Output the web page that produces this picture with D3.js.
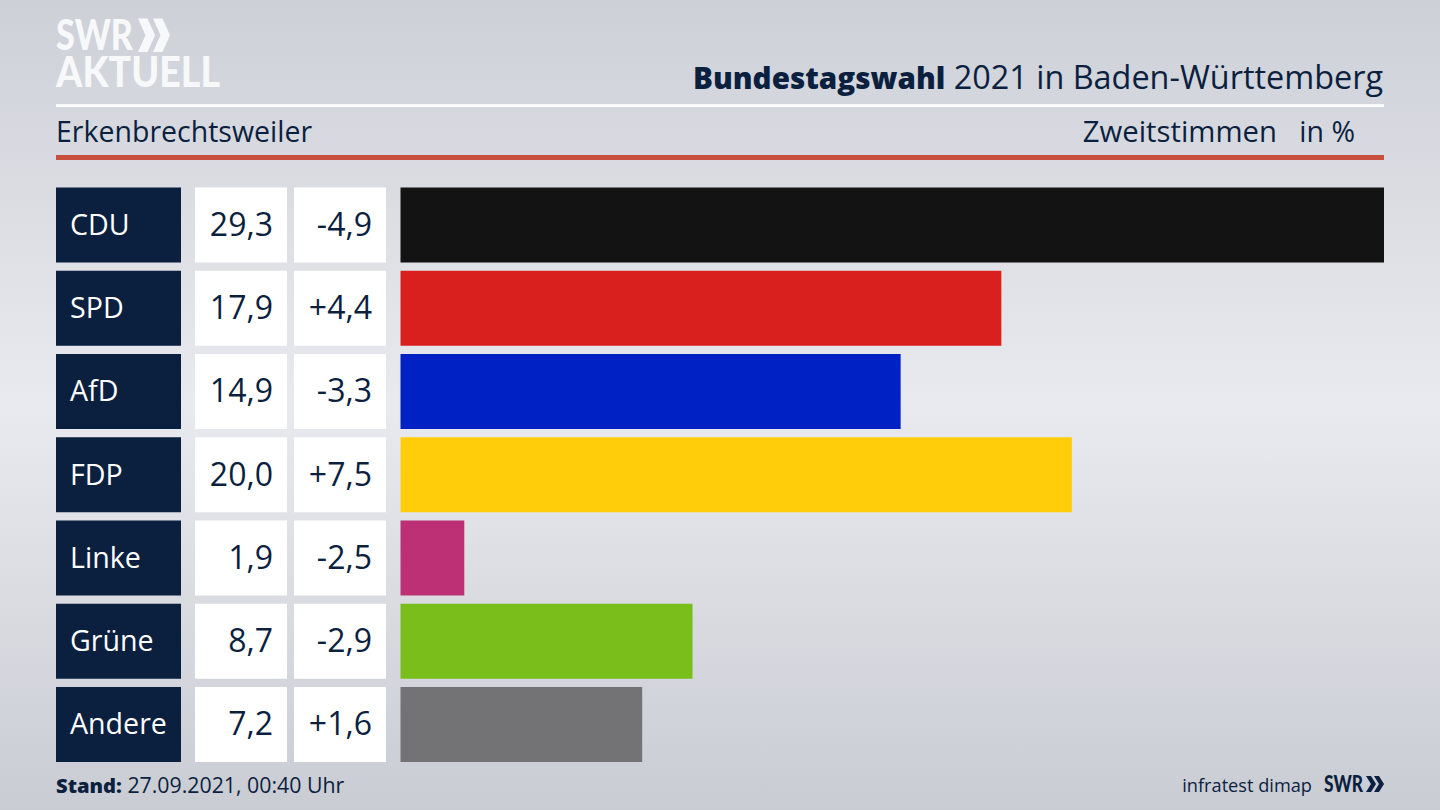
<!DOCTYPE html>
<html lang="de">
<head>
<meta charset="utf-8">
<script src="https://cdn.jsdelivr.net/npm/d3@7"></script>
<style>
html, body { margin: 0; padding: 0; background: #dcdee4; }
svg { display: block; }
text { font-family: "Open Sans", sans-serif; fill: #0b1f3f; }
</style>
</head>
<body>
<div id="chart"></div>
<script>
const parties = ['CDU', 'SPD', 'AfD', 'FDP', 'Linke', 'Grüne', 'Andere'];
const shares = [29.3, 17.9, 14.9, 20.0, 1.9, 8.7, 7.2];
const changes = [-4.9, 4.4, -3.3, 7.5, -2.5, -2.9, 1.6];
const partyColors = ['#131313', '#d9201f', '#0022c4', '#ffcd0a', '#bd3075', '#7abe1b', '#737375'];

const width = 1440;
const height = 810;
const navy = '#0b1f3f';

const svg = d3.select('#chart').append('svg')
    .attr('width', width)
    .attr('height', height);

// Background gradient, lightest around the middle
const grad = svg.append('defs').append('linearGradient')
    .attr('id', 'bg')
    .attr('x1', 0).attr('y1', 0).attr('x2', 0).attr('y2', 1);
[[0, '#cdd0d7'], [0.5, '#e9eaef'], [1, '#c9ccd3']].forEach(s => {
    grad.append('stop').attr('offset', s[0]).attr('stop-color', s[1]);
});
svg.append('rect').attr('width', width).attr('height', height).attr('fill', 'url(#bg)');

// Scales
const x = d3.scaleLinear().domain([0, d3.max(shares)]).range([400.5, 1384]);
const y = d3.scaleBand().domain(parties).range([187.5, 762]).paddingInner(0.099);

// Number format with German comma
const fmt = d3.formatLocale({ decimal: ',', thousands: '.', grouping: [3], currency: ['', ' €'] });
const fmtShare = fmt.format('.1f');
const fmtChange = fmt.format('+.1f');

// Logo, one text element with two lines
const logo = svg.append('g').attr('fill', '#f7f8f9');
const logoText = logo.append('text')
    .style('font-family', 'Lato, sans-serif')
    .style('font-weight', 900)
    .style('font-size', '42px')
    .style('fill', '#f7f8f9');
logoText.append('tspan')
    .attr('x', 56).attr('y', 50)
    .attr('textLength', 77)
    .attr('lengthAdjust', 'spacingAndGlyphs')
    .text('SWR');
logoText.append('tspan')
    .attr('x', 56).attr('y', 87)
    .attr('textLength', 164)
    .attr('lengthAdjust', 'spacingAndGlyphs')
    .text('AKTUELL');
function chevrons(g, x0, y0, h, w, gap, t) {
    [0, gap].forEach(dx => {
        const l = x0 + dx;
        g.append('path').attr('d',
            `M${l},${y0}L${l + t},${y0}L${l + w},${y0 + h / 2}L${l + t},${y0 + h}L${l},${y0 + h}L${l + w - t},${y0 + h / 2}Z`);
    });
}
chevrons(logo, 138, 18.5, 33.5, 17, 15, 9.5);

// Header rules
svg.append('rect').attr('x', 56).attr('y', 104).attr('width', 1328).attr('height', 3).attr('fill', '#fbfbfc');
svg.append('rect').attr('x', 56).attr('y', 155).attr('width', 1328).attr('height', 5).attr('fill', '#c8503c');

// Title
const title = svg.append('text')
    .attr('x', 1383).attr('y', 89)
    .attr('text-anchor', 'end');
title.append('tspan').style('font-weight', 800).style('font-size', '29.6px').text('Bundestagswahl');
title.append('tspan').style('font-size', '32.4px').text(' 2021 in Baden-Württemberg');

svg.append('text').attr('x', 56).attr('y', 142).style('font-size', '28.5px').text('Erkenbrechtsweiler');
svg.append('text').attr('x', 1277).attr('y', 142).attr('text-anchor', 'end').style('font-size', '29.3px').text('Zweitstimmen');
svg.append('text').attr('x', 1355).attr('y', 142).attr('text-anchor', 'end').style('font-size', '28.5px').text('in %');

// Rows
const rows = svg.selectAll('.row')
    .data(parties)
    .enter().append('g')
        .attr('class', 'row')
        .attr('transform', d => `translate(0, ${y(d)})`);

rows.append('rect').attr('x', 56).attr('width', 125).attr('height', y.bandwidth()).attr('fill', navy);
rows.append('rect').attr('x', 195).attr('width', 92).attr('height', y.bandwidth()).attr('fill', '#fff');
rows.append('rect').attr('x', 294).attr('width', 92).attr('height', y.bandwidth()).attr('fill', '#fff');

rows.append('rect')
    .attr('x', x(0))
    .attr('width', (d, i) => x(shares[i]) - x(0))
    .attr('height', y.bandwidth())
    .attr('fill', (d, i) => partyColors[i]);

rows.append('text')
    .attr('x', 70).attr('y', y.bandwidth() / 2 + 10)
    .style('font-size', '28.6px')
    .style('fill', '#fff')
    .text(d => d);
rows.append('text')
    .attr('x', 273).attr('y', y.bandwidth() / 2 + 11)
    .attr('text-anchor', 'end')
    .style('font-size', '32px')
    .text((d, i) => fmtShare(shares[i]));
rows.append('text')
    .attr('x', 372).attr('y', y.bandwidth() / 2 + 11)
    .attr('text-anchor', 'end')
    .style('font-size', '32px')
    .text((d, i) => fmtChange(changes[i]).replace('−', '-'));

// Footer
const stand = svg.append('text').attr('x', 56).attr('y', 793);
stand.append('tspan').style('font-weight', 800).style('font-size', '20.2px').text('Stand:');
stand.append('tspan').style('font-size', '21.3px').text(' 27.09.2021, 00:40 Uhr');

svg.append('text').attr('x', 1312).attr('y', 792).attr('text-anchor', 'end').style('font-size', '18.2px').text('infratest dimap');
const swr = svg.append('g').attr('fill', navy);
swr.append('text')
    .attr('x', 1324).attr('y', 792)
    .style('font-family', 'Lato, sans-serif')
    .style('font-weight', 900)
    .style('font-size', '22px')
    .attr('textLength', 39)
    .attr('lengthAdjust', 'spacingAndGlyphs')
    .text('SWR');
chevrons(swr, 1366, 776, 16, 10, 8, 5);
</script>
</body>
</html>
